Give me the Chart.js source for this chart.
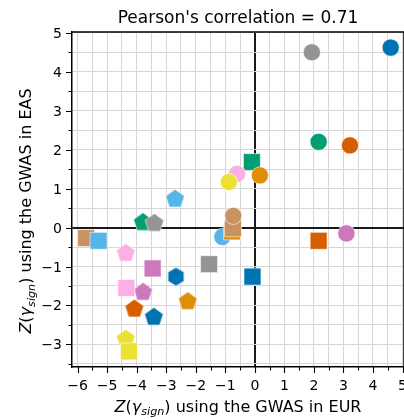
<!DOCTYPE html>
<html>
<head>
<meta charset="utf-8">
<script src="https://cdn.jsdelivr.net/npm/chart.js@4.4.0/dist/chart.umd.min.js"></script>
<style>
  html, body { margin: 0; padding: 0; background: #fff; overflow: hidden; width: 404px; height: 419px; }
  #wrap { position: absolute; left: 0; top: 0; width: 404px; height: 419px; }
  #c { display: block; }
</style>
</head>
<body>
<div id="wrap"><canvas id="c"></canvas></div>
<script>
// seaborn "colorblind" palette
const BLUE = "#0173B2", ORANGE = "#DE8F05", GREEN = "#029E73", RED = "#D55E00",
      PURPLE = "#CC78BC", BROWN = "#CA9161", PINK = "#FBAFE4", GRAY = "#949494",
      YELLOW = "#ECE133", LIGHTBLUE = "#56B4E9";

// one entry per marker, in drawing order (later ones sit on top)
const markerX = [
  -2.70, -3.79, -3.40, -4.37, -3.78, -2.27, -4.08, -3.42, -4.37,   // pentagons
  -2.67,                                                           // hexagon
  -1.10,                                                           // circle under the squares
  -5.71, -5.29, -3.46, -4.35, -1.55, -0.08, 2.16, -4.26, -0.77, -0.74, -0.10, // squares
  4.60, 1.93, 2.16, 3.22, -0.60, -0.88, 0.17, -0.73, 3.10           // circles
];
const markerY = [
  0.73, 0.13, 0.11, -0.66, -1.66, -1.90, -2.09, -2.30, -2.86,
  -1.26,
  -0.24,
  -0.27, -0.34, -1.05, -1.55, -0.94, -1.26, -0.34, -3.18, -0.10, -0.02, 1.68,
  4.62, 4.50, 2.20, 2.11, 1.38, 1.17, 1.34, 0.30, -0.15
];
const markerColor = [
  LIGHTBLUE, GREEN, GRAY, PINK, PURPLE, ORANGE, RED, BLUE, YELLOW,
  BLUE,
  LIGHTBLUE,
  BROWN, LIGHTBLUE, PURPLE, PINK, GRAY, BLUE, RED, YELLOW, ORANGE, BROWN, GREEN,
  BLUE, GRAY, GREEN, RED, PINK, YELLOW, ORANGE, BROWN, PURPLE
];
const markerShape = [
  "pent", "pent", "pent", "pent", "pent", "pent", "pent", "pent", "pent",
  "hex",
  "circle",
  "square", "square", "square", "square", "square", "square", "square", "square", "square", "square", "square",
  "circle", "circle", "circle", "circle", "circle", "circle", "circle", "circle", "circle"
];

const xTickValues = [-6, -5, -4, -3, -2, -1, 0, 1, 2, 3, 4, 5];
const yTickValues = [-3, -2, -1, 0, 1, 2, 3, 4, 5];

const X_MIN = -6.19, X_MAX = 5.05;
const Y_MIN = -3.58, Y_MAX = 5.02;
const TITLE = "Pearson's correlation = 0.71";
const X_LABEL_TAIL = " using the GWAS in EUR";
const Y_LABEL_TAIL = " using the GWAS in EAS";

const FONT = '"DejaVu Sans", sans-serif';
const EDGE = "rgba(255,255,255,0.75)";

// pentagon / hexagon markers as small canvases (Chart.js has no such style)
const polyCache = {};
function polyMarker(shape, color) {
  const key = shape + color;
  if (polyCache[key]) return polyCache[key];
  const n = shape === "pent" ? 5 : 6;
  const r = shape === "pent" ? 9.8 : 9.2;
  const size = Math.ceil(2 * r + 4);
  const cv = document.createElement("canvas");
  cv.width = size; cv.height = size;
  const g = cv.getContext("2d");
  g.beginPath();
  for (let i = 0; i < n; i++) {
    const a = -Math.PI / 2 + (i * 2 * Math.PI) / n;
    const px = size / 2 + r * Math.cos(a), py = size / 2 + r * Math.sin(a);
    if (i === 0) g.moveTo(px, py); else g.lineTo(px, py);
  }
  g.closePath();
  g.fillStyle = color;
  g.fill();
  g.lineWidth = 0.8;
  g.strokeStyle = EDGE;
  g.stroke();
  polyCache[key] = cv;
  return cv;
}

const fmtTick = (v) => (v < 0 ? "\u2212" + Math.abs(v) : String(v));

function drawRich(ctx, parts, x, y, size) {
  const sub = size * 0.7;
  const fontOf = (p) => (p.it ? "italic " : "") + (p.sub ? sub : size) + "px " + FONT;
  let total = 0;
  parts.forEach((p) => { ctx.font = fontOf(p); total += ctx.measureText(p.t).width; });
  let cx = x - total / 2;
  ctx.textAlign = "left";
  ctx.textBaseline = "alphabetic";
  parts.forEach((p) => {
    ctx.font = fontOf(p);
    ctx.fillText(p.t, cx, y + (p.sub ? size * 0.22 : 0));
    cx += ctx.measureText(p.t).width;
  });
}

const axisLabel = (tail) => [
  { t: "Z", it: true }, { t: "(" }, { t: "\u03B3", it: true },
  { t: "sign", it: true, sub: true }, { t: ")" }, { t: tail }
];

// tick marks, tick labels, spines and titles, drawn matplotlib-style
const decorations = {
  id: "decorations",
  afterDraw(chart) {
    const { ctx, chartArea: a, scales } = chart;
    ctx.save();
    ctx.fillStyle = "#000";
    ctx.strokeStyle = "#000";

    // top / right spines
    ctx.lineWidth = 1.5;
    ctx.beginPath();
    ctx.moveTo(a.left, a.top); ctx.lineTo(a.right, a.top);
    ctx.moveTo(a.right, a.top); ctx.lineTo(a.right, a.bottom);
    ctx.stroke();

    // major / minor tick marks
    ctx.lineWidth = 1.1;
    ctx.beginPath();
    for (let v = -6; v <= 5; v += 0.5) {
      const px = Math.round(scales.x.getPixelForValue(v)) + 0.5;
      const len = Number.isInteger(v) ? 6 : 3.5;
      ctx.moveTo(px, a.bottom); ctx.lineTo(px, a.bottom + len);
    }
    for (let v = -3.5; v <= 5; v += 0.5) {
      const py = Math.round(scales.y.getPixelForValue(v)) + 0.5;
      const len = Number.isInteger(v) ? 6 : 3.5;
      ctx.moveTo(a.left, py); ctx.lineTo(a.left - len, py);
    }
    ctx.stroke();

    // tick labels
    ctx.font = "14px " + FONT;
    ctx.textBaseline = "alphabetic";
    ctx.textAlign = "center";
    xTickValues.forEach((v) => {
      ctx.fillText(fmtTick(v), scales.x.getPixelForValue(v), a.bottom + 22.5);
    });
    ctx.textAlign = "right";
    yTickValues.forEach((v) => {
      ctx.fillText(fmtTick(v), a.left - 10, scales.y.getPixelForValue(v) + 5);
    });

    // title
    const cx = (a.left + a.right) / 2;
    ctx.font = "17px " + FONT;
    ctx.textAlign = "center";
    ctx.fillText(TITLE, cx, 23);

    // axis titles with the subscript
    drawRich(ctx, axisLabel(X_LABEL_TAIL), cx, 411.5, 16);
    ctx.translate(31, 211);
    ctx.rotate(-Math.PI / 2);
    drawRich(ctx, axisLabel(Y_LABEL_TAIL), 0, 0, 16);
    ctx.restore();
  }
};

const gridColor = (c) => (c.tick && c.tick.value === 0 ? "#1a1a1a" : "#d7d7d7");
const gridWidth = (c) => (c.tick && c.tick.value === 0 ? 2 : 1);

new Chart(document.getElementById("c"), {
  type: "scatter",
  data: {
    datasets: [{
      data: markerX.map((x, i) => ({ x, y: markerY[i] })),
      backgroundColor: markerColor,
      borderColor: EDGE,
      borderWidth: 0.8,
      pointStyle: (c) => {
        const s = markerShape[c.dataIndex];
        if (s === "circle") return "circle";
        if (s === "square") return "rect";
        return polyMarker(s, markerColor[c.dataIndex]);
      },
      pointRadius: (c) => {
        const s = markerShape[c.dataIndex];
        return s === "square" ? 12 : s === "circle" ? 8.6 : 9.5;
      },
      clip: false
    }]
  },
  options: {
    responsive: true,
    maintainAspectRatio: false,
    animation: false,
    events: [],
    layout: { autoPadding: false, padding: { top: 32, left: 0, right: 0, bottom: 0 } },
    plugins: { legend: { display: false }, tooltip: { enabled: false }, title: { display: false } },
    scales: {
      x: {
        type: "linear",
        min: X_MIN,
        max: X_MAX,
        afterFit(s) { s.height = 52; },
        border: { color: "#000", width: 1.5 },
        grid: { color: gridColor, lineWidth: gridWidth, drawTicks: false },
        ticks: { display: false, stepSize: 0.5, includeBounds: false, autoSkip: false, maxRotation: 0 }
      },
      y: {
        type: "linear",
        min: Y_MIN,
        max: Y_MAX,
        afterFit(s) { s.width = 72; },
        border: { color: "#000", width: 1.5 },
        grid: { color: gridColor, lineWidth: gridWidth, drawTicks: false },
        ticks: { display: false, stepSize: 0.5, includeBounds: false, autoSkip: false }
      }
    }
  },
  plugins: [decorations]
});
</script>
</body>
</html>
